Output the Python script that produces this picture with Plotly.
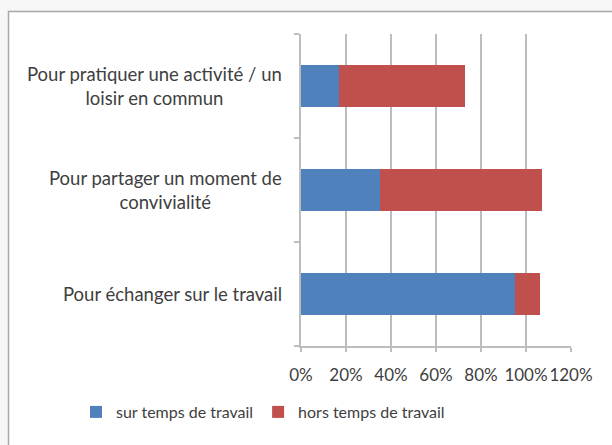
import plotly.graph_objects as go

# Reasons for getting together, bottom-to-top order on the chart
categories = [
    "Pour échanger sur le travail",
    "Pour partager un moment de convivialité",
    "Pour pratiquer une activité / un loisir en commun",
]
category_labels = [
    "Pour échanger sur le travail",
    "Pour partager un moment de<br>convivialité",
    "Pour pratiquer une activité / un<br>loisir en commun",
]
sur_temps = [0.95, 0.35, 0.17]     # during working hours
hors_temps = [0.11, 0.72, 0.56]    # outside working hours
x_ticks = [0, 0.2, 0.4, 0.6, 0.8, 1.0, 1.2]
x_tick_text = ["0%", "20%", "40%", "60%", "80%", "100%", "120%"]

FONT = "Lato, 'Open Sans', sans-serif"
TEXT = "#404040"
GRID = "#bdbdbd"

fig = go.Figure()
fig.add_trace(go.Bar(
    y=categories, x=sur_temps, orientation="h",
    name="sur temps de travail", marker=dict(color="#4F81BD", line=dict(width=0)),
))
fig.add_trace(go.Bar(
    y=categories, x=hors_temps, orientation="h",
    name="hors temps de travail", marker=dict(color="#C0504D", line=dict(width=0)),
))

# Category labels, centred line by line to the left of the axis
for cat, lab in zip(categories, category_labels):
    fig.add_annotation(
        x=-0.063, xref="paper", y=cat, yref="y",
        text=lab, showarrow=False, xanchor="right", yanchor="middle",
        align="center", font=dict(family=FONT, size=18.5, color=TEXT),
    )

# Chart frame
fig.add_shape(
    type="rect", xref="paper", yref="paper",
    x0=(8.5 - 301) / 270, x1=1.5, y0=-0.5, y1=(346 - 11.5) / 312,
    line=dict(color="#a9a9a9", width=1.5), fillcolor="white", layer="below",
)

fig.update_layout(
    width=612, height=445,
    margin=dict(l=301, r=41, t=34, b=99),
    paper_bgcolor="#f7f7f7", plot_bgcolor="rgba(0,0,0,0)",
    barmode="stack", bargap=0.6,
    font=dict(family=FONT, size=18, color=TEXT),
    showlegend=True,
    legend=dict(
        orientation="h", xref="paper", yref="paper",
        x=(76 - 301) / 270, y=(346 - 412) / 312, xanchor="left", yanchor="middle",
        font=dict(family=FONT, size=16, color=TEXT),
        bgcolor="rgba(0,0,0,0)", itemwidth=30, traceorder="normal",
    ),
    xaxis=dict(
        range=[0, 1.2], tickvals=x_ticks, ticktext=x_tick_text,
        showgrid=True, gridcolor=GRID, gridwidth=1.5,
        showline=True, linecolor=GRID, linewidth=1.5,
        ticks="outside", ticklen=4, tickcolor=GRID, tickwidth=1.5,
        ticklabelstandoff=9, tickangle=0, zeroline=False,
        tickfont=dict(family=FONT, size=17, color=TEXT),
    ),
    yaxis=dict(
        type="category", categoryorder="array", categoryarray=categories,
        showticklabels=False, showgrid=False,
        showline=True, linecolor=GRID, linewidth=1.5,
        ticks="outside", ticklen=5, tickcolor=GRID, tickwidth=1.5,
        tickson="boundaries", zeroline=False,
    ),
)

fig.write_html("out.html")
